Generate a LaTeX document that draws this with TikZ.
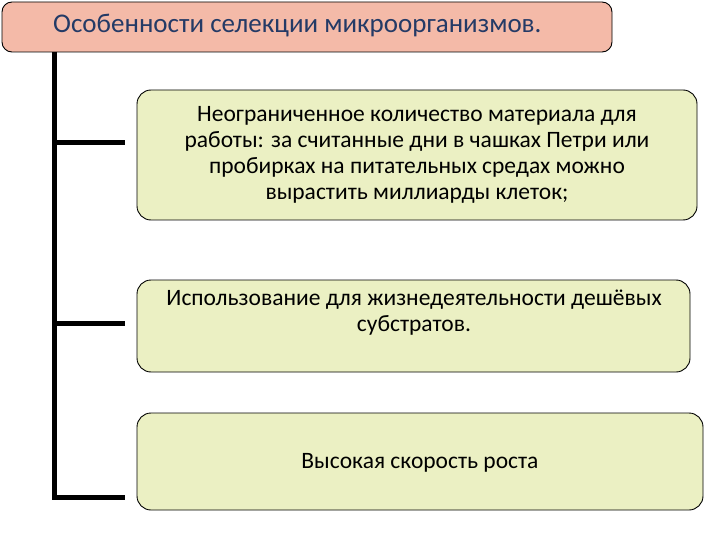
\documentclass[tikz,border=0pt]{standalone}
\usepackage{fontspec}
\setmainfont{Carlito}
\definecolor{pinkbox}{HTML}{F4BAA8}
\definecolor{ybox}{HTML}{EBF0C3}
\definecolor{titleblue}{HTML}{243A66}
\begin{document}
\begin{tikzpicture}[x=1pt,y=-1pt,
  boxline/.style={draw=black,line width=0.9pt,rounded corners=14pt},
  txt/.style={align=center,font=\fontsize{23.5}{26}\selectfont},
  conn/.style={line width=5pt}]
\useasboundingbox (0,0) rectangle (720,540);
\draw[boxline,fill=pinkbox,rounded corners=10pt] (2,2) rectangle (612,52);
\node (title) [anchor=west,text=titleblue,font=\fontsize{27}{30}\selectfont,inner sep=0pt] at (53,26) {Особенности селекции микроорганизмов.};
\coordinate (top) at (54,52);
\draw[boxline,fill=ybox] (137,90) rectangle (697,220);
\node (b1) [txt] at (417,155) {Неограниченное количество материала для\\работы: за считанные дни в чашках Петри или\\пробирках на питательных средах можно\\вырастить миллиарды клеток;};
\draw[boxline,fill=ybox] (137,280) rectangle (690,372);
\node (b2) [txt] at (414,313) {Использование для жизнедеятельности дешёвых\\субстратов.};
\draw[boxline,fill=ybox] (137,413) rectangle (703,510);
\node (b3) [txt] at (420,463) {Высокая скорость роста};
\coordinate (c1) at (125,143);
\coordinate (c2) at (125,323);
\coordinate (c3) at (125,497);
\draw[conn] (top) -- (54,497) -- (c3);
\draw[conn] (54,143) -- (c1);
\draw[conn] (54,323) -- (c2);
\end{tikzpicture}
\end{document}
